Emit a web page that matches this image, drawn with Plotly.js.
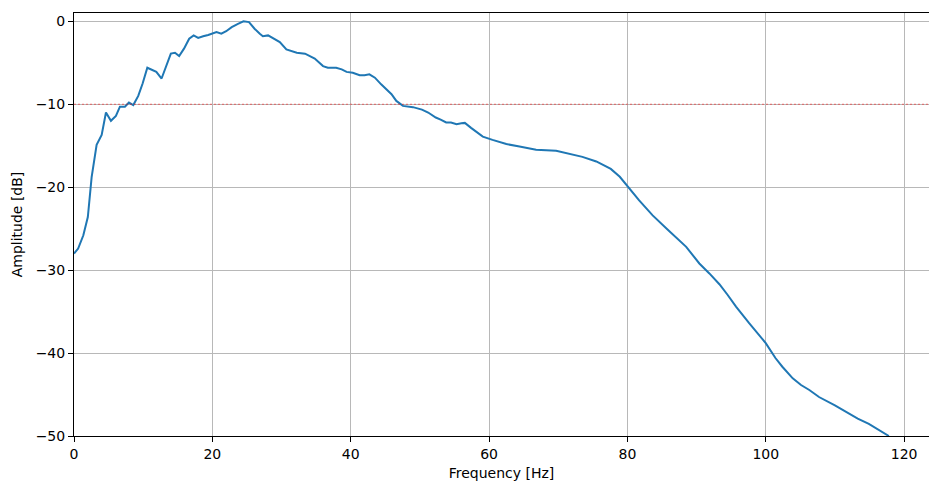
<!DOCTYPE html>
<html>
<head>
<meta charset="utf-8">
<script src="https://cdn.plot.ly/plotly-3.0.1.min.js"></script>
<style>html,body{margin:0;padding:0;background:#fff;overflow:hidden;}#chart{width:929px;height:481px;}</style>
</head>
<body>
<div id="chart"></div>
<script>
const freqHz = [0.0,0.6,1.35,2.0,2.55,3.27,4.0,4.62,5.34,6.06,6.64,7.36,7.94,8.57,9.29,9.92,10.6,11.9,12.66,13.3,14.0,14.6,15.2,15.9,16.65,17.3,17.95,18.67,19.4,20.6,21.3,22.0,22.8,23.7,24.5,25.3,26.1,26.86,27.3,28.06,29.75,30.7,32.2,33.4,34.8,36.0,36.7,37.9,38.7,39.4,40.3,41.3,42.0,42.7,43.5,44.4,45.15,45.9,46.6,47.55,49.0,50.3,51.2,52.3,53.0,53.8,54.5,55.3,56.0,56.5,57.4,59.1,60.5,62.5,64.4,66.8,69.7,71.6,73.5,75.5,77.6,78.9,80.1,81.7,83.65,84.6,85.8,88.5,90.4,91.85,93.3,94.5,95.7,97.6,98.8,100.0,101.4,102.4,103.9,105.1,106.3,107.7,110.0,111.6,113.3,114.9,116.4,117.8];
const amplitudeDb = [-28.0,-27.4,-25.8,-23.6,-18.8,-14.9,-13.7,-11.0,-12.0,-11.4,-10.3,-10.3,-9.8,-10.1,-9.0,-7.5,-5.6,-6.1,-6.9,-5.5,-3.9,-3.8,-4.2,-3.3,-2.1,-1.7,-2.0,-1.8,-1.65,-1.3,-1.5,-1.2,-0.7,-0.3,0.0,-0.1,-0.9,-1.5,-1.8,-1.7,-2.5,-3.4,-3.8,-3.9,-4.5,-5.4,-5.6,-5.6,-5.8,-6.1,-6.2,-6.5,-6.5,-6.4,-6.8,-7.6,-8.2,-8.8,-9.6,-10.2,-10.35,-10.65,-11.0,-11.6,-11.85,-12.2,-12.2,-12.4,-12.3,-12.25,-12.85,-13.9,-14.3,-14.8,-15.1,-15.5,-15.6,-15.95,-16.35,-16.9,-17.8,-18.75,-20.0,-21.6,-23.4,-24.2,-25.1,-27.2,-29.2,-30.4,-31.7,-33.0,-34.4,-36.4,-37.6,-38.8,-40.6,-41.65,-43.05,-43.85,-44.45,-45.3,-46.3,-47.1,-47.9,-48.55,-49.3,-50.0];
const thresholdDb = -10;
const xTicks = [0,20,40,60,80,100,120];
const yTicks = [0,-10,-20,-30,-40,-50];

const font = {family: 'DejaVu Sans, sans-serif', size: 14, color: '#000'};
const trace = {
  x: freqHz, y: amplitudeDb, type: 'scatter', mode: 'lines',
  line: {color: '#1f77b4', width: 2}, hoverinfo: 'skip'
};
const layout = {
  width: 929, height: 481,
  margin: {l: 74, r: 0, t: 13, b: 45, pad: 0},
  paper_bgcolor: '#fff', plot_bgcolor: '#fff',
  showlegend: false, font: font,
  xaxis: {
    range: [0, 123.6], tickvals: xTicks, ticktext: xTicks.map(String),
    showgrid: true, gridcolor: '#b8b8b8', gridwidth: 1, zeroline: false,
    showline: true, linecolor: '#000', linewidth: 1, mirror: true,
    ticks: 'outside', ticklen: 5, tickcolor: '#000', tickwidth: 1,
    tickfont: font,
    title: {text: 'Frequency [Hz]', font: font, standoff: 7}
  },
  yaxis: {
    range: [-50, 1], tickvals: yTicks, ticktext: yTicks.map(v => v < 0 ? '\u2212' + Math.abs(v) : String(v)),
    showgrid: true, gridcolor: '#b8b8b8', gridwidth: 1, zeroline: false,
    showline: true, linecolor: '#000', linewidth: 1, mirror: false,
    ticks: 'outside', ticklen: 5, tickcolor: '#000', tickwidth: 1,
    tickfont: font,
    title: {text: 'Amplitude [dB]', font: font, standoff: 9}
  },
  shapes: [{
    type: 'line', xref: 'paper', x0: 0, x1: 1, yref: 'y', y0: thresholdDb, y1: thresholdDb,
    line: {color: 'rgba(255,0,0,0.5)', width: 1, dash: '2px,2px'}, layer: 'above'
  }]
};
Plotly.newPlot('chart', [trace], layout, {displayModeBar: false, staticPlot: true});
</script>
</body>
</html>
